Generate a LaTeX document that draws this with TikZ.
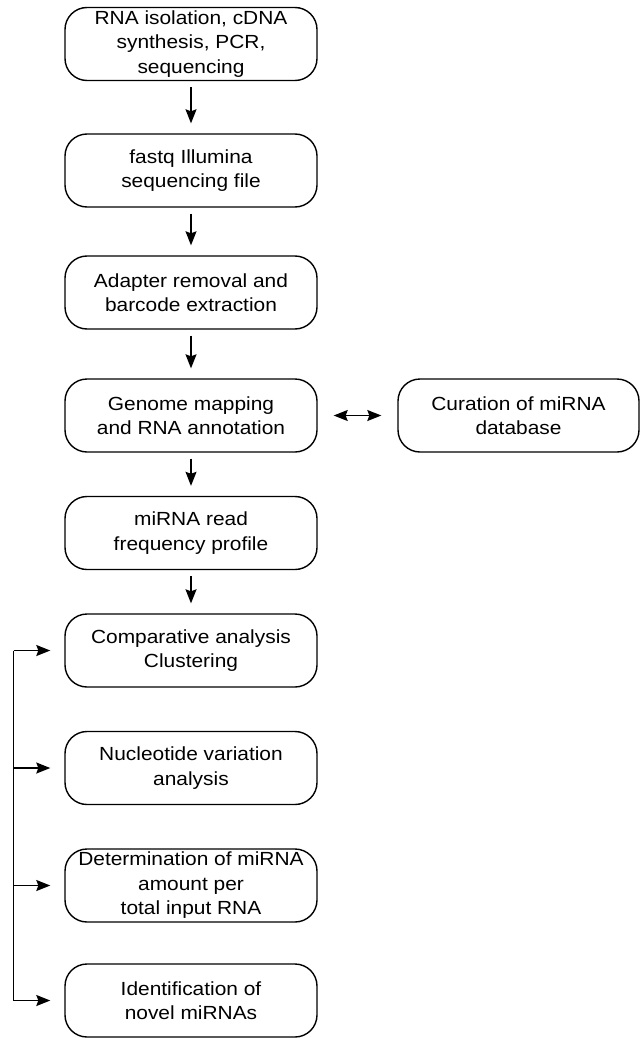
\documentclass[tikz,border=0pt]{standalone}
\usepackage{fontspec}
\setmainfont{Liberation Sans}[FakeStretch=1.1]
\usetikzlibrary{arrows.meta}
\begin{document}
\begin{tikzpicture}[x=1pt,y=-1pt,
  box/.style={draw, line width=1.4pt, rounded corners=22pt, minimum width=252pt, minimum height=73pt, align=center, inner sep=0pt, font=\fontsize{19}{24.5}\selectfont},
  conn/.style={line width=1.4pt, -{Stealth[length=14pt,width=11pt,inset=2pt]}},
  dconn/.style={line width=1.4pt, {Stealth[length=14pt,width=11pt,inset=2pt]}-{Stealth[length=14pt,width=11pt,inset=2pt]}}
]
\useasboundingbox (0,0) rectangle (641,1038);
\node[box] (b1) at (191,44) {RNA isolation, cDNA\\synthesis, PCR,\\sequencing};
\node[box] (b2) at (191,170.5) {fastq Illumina\\sequencing file};
\node[box] (b3) at (191,292.5) {Adapter removal and\\barcode extraction};
\node[box] (b4) at (191,415.5) {Genome mapping\\and RNA annotation};
\node[box, minimum width=241pt] (cur) at (518.5,415.5) {Curation of miRNA\\database};
\node[box] (b5) at (191,533) {miRNA read\\frequency profile};
\node[box] (b6) at (191,650.5) {Comparative analysis\\Clustering};
\node[box] (b7) at (191,768) {Nucleotide variation\\analysis};
\node[box] (b8) at (191,885.5) {Determination of miRNA\\amount per\\total input RNA};
\node[box] (b9) at (191,1000.5) {Identification of\\novel miRNAs};
\draw[conn, shorten <=6pt, shorten >=10pt] (b1) -- (b2);
\draw[conn, shorten <=6pt, shorten >=10pt] (b2) -- (b3);
\draw[conn, shorten <=6pt, shorten >=10pt] (b3) -- (b4);
\draw[conn, shorten <=6pt, shorten >=10pt] (b4) -- (b5);
\draw[conn, shorten <=6pt, shorten >=10pt] (b5) -- (b6);
\draw[dconn, shorten <=16pt, shorten >=16pt] (b4) -- (cur);
\coordinate (l6) at (13.5,650.5);
\coordinate (l7) at (13.5,768);
\coordinate (l8) at (13.5,885.5);
\coordinate (l9) at (13.5,1000.5);
\draw[line width=1.4pt] (l6) -- (l9);
\draw[conn, shorten >=14pt] (l6) -- (b6);
\draw[conn, shorten >=14pt] (l7) -- (b7);
\draw[conn, shorten >=14pt] (l8) -- (b8);
\draw[conn, shorten >=14pt] (l9) -- (b9);
\end{tikzpicture}
\end{document}
